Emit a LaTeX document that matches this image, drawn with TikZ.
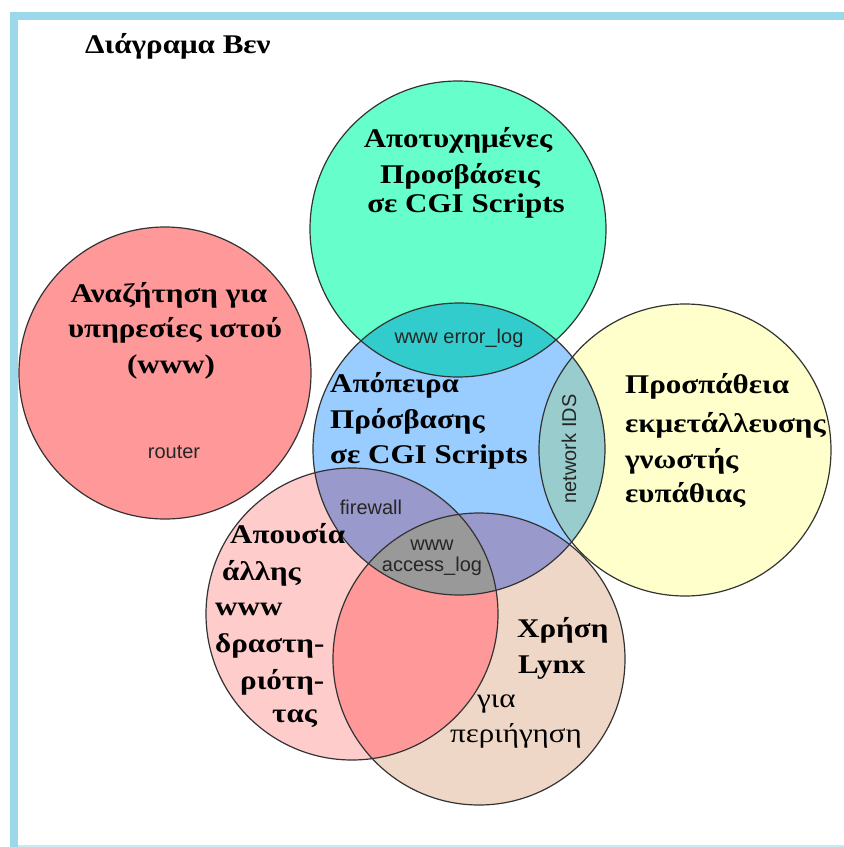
\documentclass[tikz,border=0pt]{standalone}
\usepackage{fontspec}
\newfontfamily\grk{Liberation Serif}[FakeStretch=1.15]
\newfontfamily\lbl{Liberation Sans}
\definecolor{framecol}{HTML}{9BD8EA}
\definecolor{framelow}{HTML}{C8ECF4}
\definecolor{cteal}{HTML}{66FFCC}
\definecolor{cred}{HTML}{FF9999}
\definecolor{cblue}{HTML}{99CCFF}
\definecolor{cyellow}{HTML}{FFFFCC}
\definecolor{cpink}{HTML}{FFCCCC}
\definecolor{cbeige}{HTML}{EFD7C7}
\definecolor{ctealblue}{HTML}{33CCCC}
\definecolor{cblueyel}{HTML}{99CCCC}
\definecolor{cpurple}{HTML}{9999CC}
\definecolor{csalmon}{HTML}{FF9999}
\definecolor{cgray}{HTML}{999999}
\definecolor{rim}{HTML}{333333}
\begin{document}
\begin{tikzpicture}[x=1pt,y=-1pt,
  big/.style={font=\grk\bfseries\fontsize{27}{32}\selectfont, inner sep=0pt},
  bigreg/.style={font=\grk\fontsize{27}{32}\selectfont, inner sep=0pt},
  small/.style={font=\lbl\fontsize{20}{24}\selectfont, inner sep=0pt, text=black!85},
  rimline/.style={draw=rim, line width=1.2pt}]
\useasboundingbox (0,0) rectangle (844,847);

% frame
\fill[framecol] (10,12) rectangle (18,847);
\fill[framecol] (10,12) rectangle (844,20);
\fill[framelow] (18,845) rectangle (844,847);

% circle centres
\coordinate (T) at (458,229);
\coordinate (R) at (165,373);
\coordinate (B) at (459,449);
\coordinate (Y) at (685,450);
\coordinate (P) at (352,614);
\coordinate (E) at (479,659);
\def\rr{146}

% plain fills
\fill[cteal] (T) circle (148);
\fill[cred] (R) circle (\rr);
\fill[cyellow] (Y) circle (\rr);
\fill[cpink] (P) circle (\rr);
\fill[cbeige] (E) circle (\rr);
\fill[cblue] (B) circle (\rr);

% overlaps
\begin{scope}
  \clip (B) circle (\rr);
  \fill[ctealblue] (T) circle (148);
  \fill[cblueyel] (Y) circle (\rr);
  \fill[cpurple] (P) circle (\rr);
  \fill[cpurple] (E) circle (\rr);
\end{scope}
\begin{scope}
  \clip (P) circle (\rr);
  \fill[csalmon] (E) circle (\rr);
  \clip (B) circle (\rr);
  \fill[cgray] (E) circle (\rr);
\end{scope}

% outlines
\draw[rimline] (T) circle (148);
\foreach \c in {R,B,Y,P,E} \draw[rimline] (\c) circle (\rr);

% title
\node[big, anchor=base west] (title) at (85,53) {Διάγραμα Βεν};

% top circle
\node[big, anchor=base] (t1) at (458,147) {Αποτυχημένες};
\node[big, anchor=base] (t2) at (460,183) {Προσβάσεις};
\node[big, anchor=base] (t3) at (466,212) {σε CGI Scripts};

% left circle
\node[big, anchor=base] (r1) at (169,302) {Αναζήτηση για};
\node[big, anchor=base] (r2) at (175,337) {υπηρεσίες ιστού};
\node[big, anchor=base] (r3) at (171,373) {(www)};
\node[small] (router) at (174,452) {router};

% centre circle
\node[big, anchor=base west] (b1) at (330,392) {Απόπειρα};
\node[big, anchor=base west] (b2) at (330,428) {Πρόσβασης};
\node[big, anchor=base west] (b3) at (330,463) {σε CGI Scripts};

% right circle
\node[big, anchor=base west] (y1) at (625,393) {Προσπάθεια};
\node[big, anchor=base west] (y2) at (625,432) {εκμετάλλευσης};
\node[big, anchor=base west] (y3) at (625,468) {γνωστής};
\node[big, anchor=base west] (y4) at (625,502) {ευπάθιας};

% lower left circle
\node[big, anchor=base west] (p1) at (230,543) {Απουσία};
\node[big, anchor=base west] (p2) at (222,580) {άλλης};
\node[big, anchor=base west] (p3) at (215,615) {www};
\node[big, anchor=base west] (p4) at (215,652) {δραστη-};
\node[big, anchor=base west] (p5) at (240,689) {ριότη-};
\node[big, anchor=base west] (p6) at (272,722) {τας};

% lower right circle
\node[big, anchor=base west] (e1) at (517,637) {Χρήση};
\node[big, anchor=base west] (e2) at (518,673) {Lynx};
\node[bigreg, anchor=base west] (e3) at (477,707) {για};
\node[bigreg, anchor=base west] (e4) at (450,742) {περιήγηση};

% overlap labels
\node[small] (errlog) at (459,338) {www error\_log};
\node[small, rotate=90] (ids) at (569,449) {network IDS};
\node[small] (fw) at (371,507) {firewall};
\node[small] (acc1) at (432,545) {www};
\node[small] (acc2) at (432,566) {access\_log};
\end{tikzpicture}
\end{document}
